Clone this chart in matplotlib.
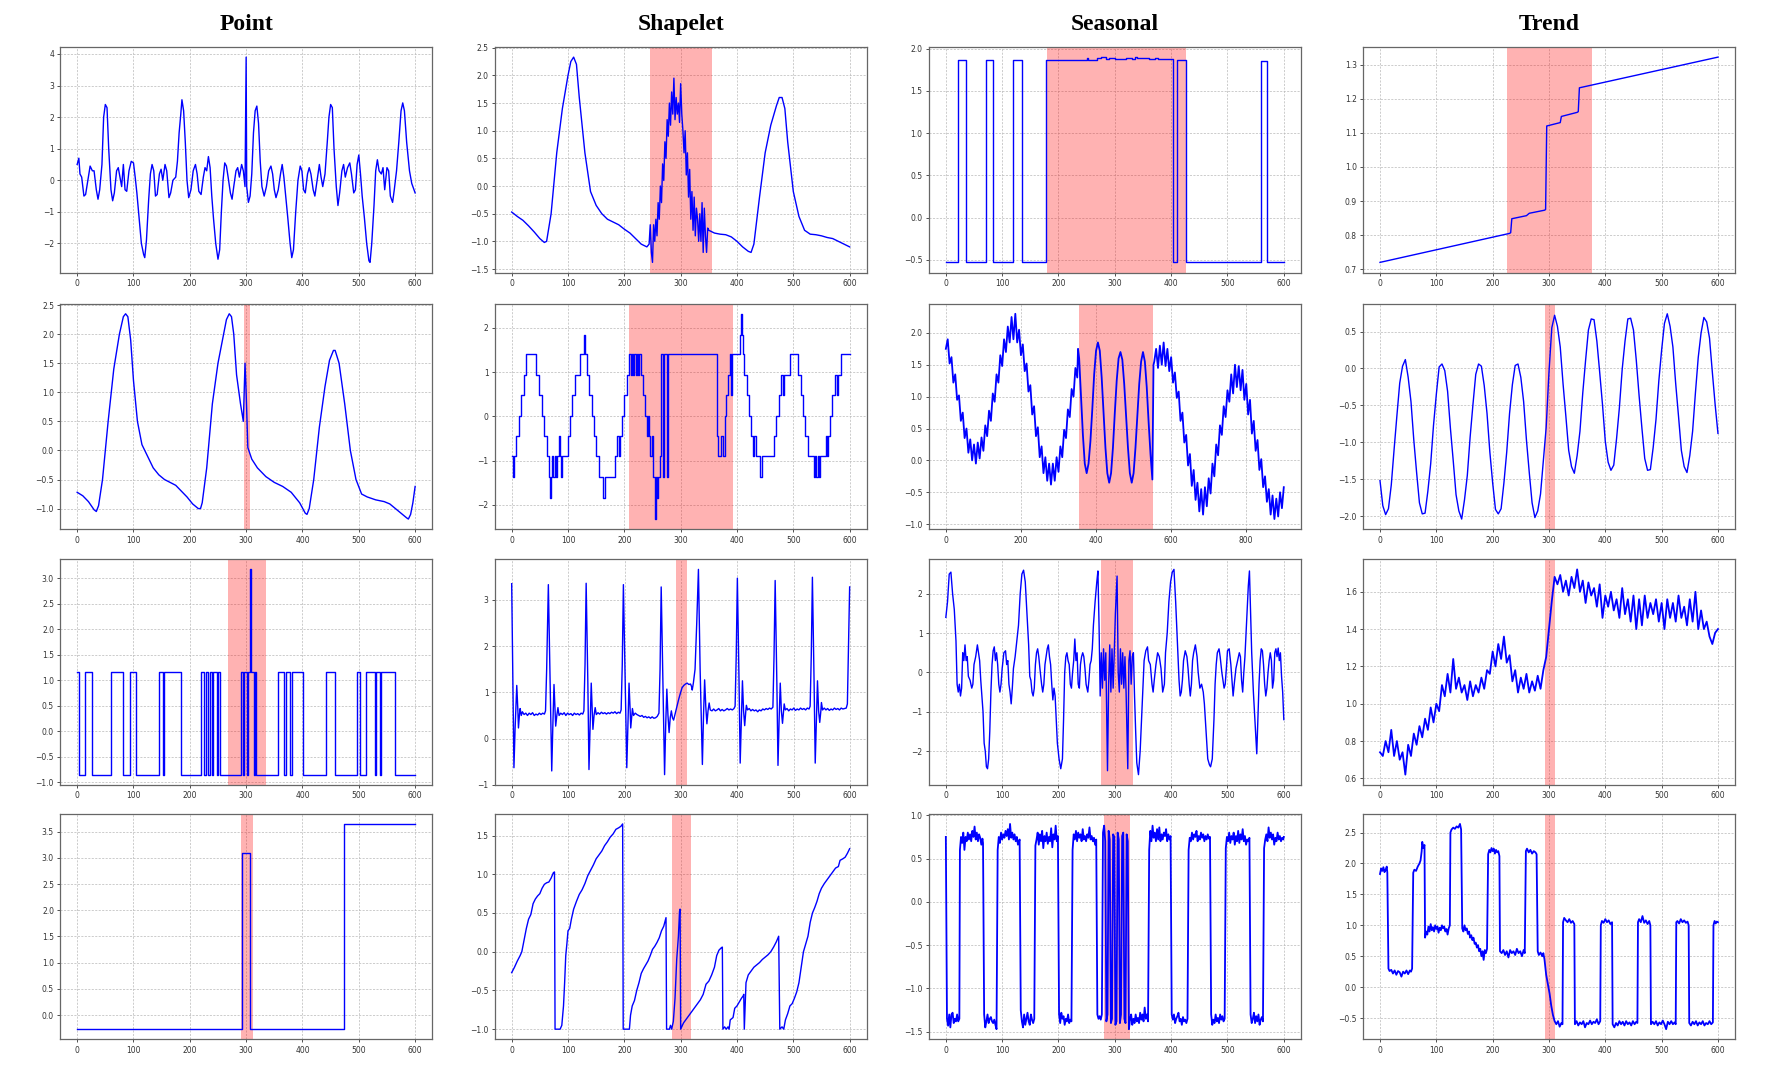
import numpy as np
import matplotlib
matplotlib.use("Agg")
import matplotlib.pyplot as plt
from matplotlib.ticker import MaxNLocator

col_titles = ["Point", "Shapelet", "Seasonal", "Trend"]

# ---------------- row 1 ----------------
point_r1 = [(0, 0.5), (3, 0.7), (5, 0.2), (8, 0.1), (12, -0.5), (15, -0.45), (20, 0.1), (23, 0.45), (27, 0.3),
            (30, 0.3), (34, -0.3), (37, -0.6), (40, -0.3), (44, 0.5), (47, 2.0), (50, 2.4), (53, 2.3), (56, 1.0),
            (60, -0.3), (63, -0.65), (66, -0.4), (70, 0.3), (73, 0.4), (76, 0.1), (79, -0.2), (82, 0.5), (85, -0.3),
            (88, -0.35), (92, 0.3), (96, 0.6), (100, 0.55), (103, 0.1), (106, -0.4), (110, -1.2), (114, -2.0),
            (118, -2.35), (120, -2.45), (123, -1.9), (127, -0.6), (130, 0.2), (133, 0.5), (136, 0.3), (139, -0.5),
            (142, -0.45), (146, 0.2), (149, 0.35), (152, 0.0), (156, 0.5), (159, 0.3), (163, -0.55), (166, -0.4),
            (170, 0.0), (175, 0.1), (178, 0.6), (181, 1.5), (184, 2.1), (186, 2.55), (189, 2.2), (192, 1.2),
            (195, 0.0), (198, -0.55), (202, -0.3), (206, 0.3), (210, 0.5), (213, 0.2), (216, -0.35), (220, -0.45),
            (224, 0.1), (227, 0.4), (230, 0.3), (233, 0.75), (236, 0.4), (239, -0.5), (242, -1.2), (246, -2.0),
            (250, -2.5), (253, -2.2), (256, -1.0), (259, 0.0), (262, 0.55), (265, 0.45), (268, 0.1), (272, -0.4),
            (275, -0.6), (278, -0.2), (282, 0.3), (285, 0.4), (288, 0.1), (292, 0.5), (295, 0.3), (298, -0.2),
            (300, 3.9), (301, -0.2), (304, -0.7), (307, -0.5), (310, 0.2), (313, 1.5), (316, 2.2), (319, 2.35),
            (322, 1.8), (325, 0.6), (328, -0.2), (332, -0.5), (336, -0.2), (340, 0.3), (344, 0.45), (347, 0.2),
            (350, -0.3), (353, -0.55), (357, -0.3), (361, 0.2), (364, 0.5), (367, 0.1), (370, -0.45), (374, -1.2),
            (378, -2.0), (381, -2.45), (384, -2.2), (388, -1.0), (392, 0.0), (396, 0.45), (399, 0.3), (402, -0.3),
            (405, -0.4), (409, 0.2), (412, 0.4), (415, 0.2), (419, -0.3), (422, -0.5), (426, 0.0), (430, 0.5),
            (433, 0.1), (436, -0.2), (440, 0.2), (444, 1.2), (447, 2.0), (450, 2.4), (453, 2.3), (456, 1.0),
            (460, -0.2), (463, -0.8), (466, -0.4), (470, 0.3), (473, 0.5), (476, 0.1), (480, 0.4), (484, 0.55),
            (487, 0.2), (491, -0.4), (494, -0.3), (497, 0.5), (500, 0.8), (503, 0.2), (506, -0.5), (510, -1.2),
            (514, -2.0), (518, -2.55), (520, -2.6), (523, -2.0), (527, -0.8), (530, 0.3), (533, 0.65), (536, 0.3),
            (540, 0.2), (543, 0.4), (546, -0.3), (550, 0.4), (553, 0.3), (556, -0.5), (560, -0.7), (563, -0.3),
            (567, 0.3), (571, 1.2), (575, 2.2), (578, 2.45), (581, 2.2), (585, 1.2), (590, 0.3), (594, -0.1),
            (600, -0.4)]

shapelet_r1 = [(0, -0.47), (10, -0.55), (20, -0.62), (30, -0.72), (40, -0.83), (50, -0.95), (58, -1.02), (62, -1.0),
               (70, -0.5), (80, 0.6), (90, 1.4), (100, 2.0), (105, 2.25), (110, 2.33), (115, 2.2), (120, 1.6),
               (130, 0.6), (140, -0.1), (150, -0.35), (160, -0.5), (170, -0.6), (180, -0.65), (190, -0.7),
               (200, -0.78), (210, -0.85), (220, -0.95), (230, -1.05), (240, -1.1), (244, -1.05), (246, -0.7),
               (248, -1.2), (250, -1.38), (252, -0.7), (254, -1.0), (256, -0.6), (258, -0.9), (260, -0.3),
               (262, -0.6), (264, 0.0), (266, -0.3), (268, 0.4), (270, 0.1), (272, 0.8), (274, 0.5), (276, 1.2),
               (278, 0.9), (280, 1.5), (282, 1.1), (284, 1.7), (286, 1.3), (288, 1.95), (290, 1.2), (292, 1.6),
               (294, 1.3), (296, 1.5), (298, 1.15), (300, 1.85), (302, 1.3), (304, 1.0), (306, 0.6), (308, 1.0),
               (310, 0.2), (312, 0.6), (314, -0.2), (316, 0.3), (318, -0.6), (320, -0.1), (322, -0.8), (324, -0.2),
               (326, -0.9), (328, -0.4), (330, -0.6), (332, -1.0), (334, -0.5), (336, -1.0), (338, -0.3),
               (340, -1.2), (342, -0.4), (344, -0.9), (346, -1.2), (348, -0.76), (350, -0.8), (360, -0.85),
               (370, -0.87), (380, -0.88), (390, -0.92), (400, -1.0), (410, -1.1), (420, -1.18), (425, -1.2),
               (430, -1.05), (440, -0.2), (450, 0.6), (460, 1.1), (470, 1.45), (475, 1.6), (480, 1.6), (485, 1.4),
               (490, 0.8), (500, -0.1), (510, -0.55), (520, -0.8), (530, -0.87), (540, -0.88), (550, -0.9),
               (560, -0.93), (570, -0.95), (580, -1.0), (590, -1.05), (600, -1.1)]

seasonal_r1 = [(0, -0.53), (22, 1.87), (36, -0.53), (71, 1.87), (83, -0.53), (119, 1.87), (135, -0.53),
               (178, 1.87), (250, 1.89), (253, 1.87), (268, 1.89), (275, 1.9), (285, 1.88), (290, 1.895),
               (300, 1.88), (320, 1.89), (330, 1.88), (335, 1.9), (340, 1.885), (350, 1.89), (360, 1.88),
               (372, 1.89), (376, 1.875), (403, -0.53), (411, 1.87), (426, -0.53), (559, 1.86), (571, -0.53),
               (600, -0.53)]

trend_r1 = [(0, 0.72), (230, 0.805), (232, 0.807), (234, 0.848), (260, 0.857), (265, 0.864), (292, 0.873),
            (294, 0.875), (296, 1.12), (320, 1.13), (322, 1.148), (350, 1.16), (352, 1.162), (354, 1.232),
            (600, 1.322)]

# ---------------- row 2 ----------------
point_r2 = [(0, -0.72), (10, -0.78), (20, -0.88), (30, -1.02), (34, -1.05), (38, -0.95), (45, -0.5), (55, 0.5),
            (65, 1.4), (75, 2.0), (82, 2.3), (86, 2.35), (90, 2.3), (95, 1.9), (100, 1.2), (107, 0.5), (115, 0.1),
            (125, -0.1), (135, -0.3), (145, -0.42), (155, -0.5), (165, -0.55), (175, -0.6), (185, -0.7),
            (195, -0.8), (205, -0.92), (215, -1.0), (219, -1.0), (222, -0.9), (230, -0.3), (240, 0.8), (250, 1.5),
            (260, 2.0), (265, 2.25), (270, 2.35), (274, 2.3), (278, 2.0), (283, 1.3), (290, 0.8), (295, 0.5),
            (298, 1.5), (300, 1.0), (303, 0.05), (310, -0.15), (320, -0.3), (335, -0.45), (350, -0.55),
            (365, -0.62), (380, -0.72), (395, -0.9), (405, -1.08), (408, -1.1), (412, -1.0), (420, -0.5),
            (430, 0.4), (440, 1.1), (448, 1.55), (455, 1.72), (458, 1.72), (465, 1.5), (475, 0.8), (485, 0.0),
            (495, -0.5), (505, -0.75), (515, -0.8), (530, -0.85), (545, -0.88), (555, -0.92), (565, -1.0),
            (575, -1.08), (585, -1.16), (588, -1.18), (592, -1.1), (596, -0.9), (600, -0.62)]

shapelet_r2 = [(0, -0.9), (3, -1.36), (5, -0.9), (8, -0.44), (13, 0.02), (17, 0.48), (21, 0.94), (25, 1.4),
               (44, 0.94), (48, 0.48), (53, 0.02), (58, -0.44), (62, -0.9), (66, -1.36), (68, -1.84), (70, -1.36),
               (72, -0.9), (74, -1.36), (77, -0.9), (79, -1.36), (81, -0.9), (84, -0.44), (86, -0.9), (88, -1.36),
               (90, -0.9), (100, -0.44), (104, 0.02), (107, 0.48), (112, 0.94), (122, 1.4), (128, 1.84), (131, 1.4),
               (134, 0.94), (138, 0.48), (142, 0.02), (146, -0.44), (150, -0.9), (155, -1.36), (163, -1.84),
               (165, -1.36), (183, -0.9), (187, -0.44), (190, -0.9), (192, -0.44), (196, 0.02), (200, 0.48),
               (204, 0.94), (208, 1.4), (211, 0.94), (213, 1.4), (215, 0.94), (217, 1.4), (220, 0.94), (222, 1.4),
               (224, 0.94), (226, 1.4), (229, 0.94), (233, 0.48), (237, 0.02), (240, -0.44), (242, 0.02),
               (244, -0.44), (246, -0.9), (249, -0.44), (251, -1.36), (254, -2.32), (256, -1.36), (258, -1.84),
               (260, -1.36), (263, -0.9), (265, 1.4), (268, -1.36), (271, 1.4), (275, -1.36), (278, 1.4),
               (364, -0.44), (367, -0.9), (372, -0.44), (375, -0.9), (378, 0.02), (381, 0.48), (384, 0.94),
               (388, 1.4), (390, 0.48), (392, 1.4), (405, 1.84), (407, 2.32), (409, 1.84), (411, 1.4), (413, 0.94),
               (417, 0.48), (421, 0.02), (425, -0.44), (429, -0.9), (431, -0.44), (434, -0.9), (440, -1.36),
               (444, -0.9), (466, -0.44), (470, 0.02), (474, 0.48), (478, 0.94), (481, 0.48), (484, 0.94),
               (494, 1.4), (509, 0.94), (513, 0.48), (517, 0.02), (521, -0.44), (526, -0.9), (536, -1.36),
               (538, -0.9), (541, -1.36), (543, -0.9), (546, -1.36), (548, -0.9), (558, -0.44), (560, -0.9),
               (562, -0.44), (565, 0.02), (569, 0.48), (574, 0.94), (577, 0.48), (579, 0.94), (584, 1.4),
               (600, 1.4)]

seasonal_r2 = [(0, 1.75), (5, 1.90), (10, 1.52), (15, 1.62), (20, 1.22), (25, 1.35), (30, 0.95), (35, 1.02),
               (40, 0.62), (45, 0.75), (50, 0.35), (55, 0.50), (60, 0.12), (65, 0.33), (70, 0.00), (75, 0.25),
               (80, -0.05), (85, 0.28), (90, 0.03), (95, 0.36), (100, 0.15), (105, 0.55), (110, 0.38), (115, 0.78),
               (120, 0.62), (125, 1.05), (130, 0.92), (135, 1.35), (140, 1.22), (145, 1.65), (150, 1.48),
               (155, 1.90), (160, 1.70), (165, 2.10), (170, 1.85), (175, 2.25), (180, 1.90), (185, 2.30),
               (190, 1.85), (195, 2.05), (200, 1.65), (205, 1.82), (210, 1.40), (215, 1.52), (220, 1.08),
               (225, 1.18), (230, 0.72), (235, 0.85), (240, 0.38), (245, 0.52), (250, 0.05), (255, 0.22),
               (260, -0.20), (265, 0.05), (270, -0.32), (275, -0.05), (280, -0.38), (285, -0.05), (290, -0.32),
               (295, 0.05), (300, -0.18), (305, 0.22), (310, 0.05), (315, 0.48), (320, 0.35), (325, 0.80),
               (330, 0.68), (335, 1.12), (340, 1.00), (345, 1.45), (350, 1.30), (352, 1.75),
               (355, 1.6), (360, 1.0), (365, 0.4), (370, -0.05), (375, -0.2), (380, -0.05), (385, 0.3), (390, 0.8),
               (395, 1.35), (400, 1.72), (405, 1.85), (410, 1.72), (415, 1.3), (420, 0.75), (425, 0.2), (430, -0.2),
               (435, -0.35), (440, -0.2), (445, 0.2), (450, 0.75), (455, 1.25), (460, 1.6), (465, 1.7),
               (470, 1.58), (475, 1.2), (480, 0.7), (485, 0.2), (490, -0.2), (495, -0.35), (500, -0.2), (505, 0.2),
               (510, 0.7), (515, 1.2), (520, 1.55), (525, 1.7), (530, 1.55), (535, 1.15), (540, 0.6), (545, 0.1),
               (550, -0.3),
               (553, 1.5), (555, 1.55), (560, 1.75), (565, 1.45), (570, 1.80), (575, 1.50), (580, 1.85),
               (585, 1.48), (590, 1.75), (595, 1.40), (600, 1.62), (605, 1.22), (610, 1.38), (615, 0.98),
               (620, 1.08), (625, 0.62), (630, 0.75), (635, 0.28), (640, 0.40), (645, -0.08), (650, 0.10),
               (655, -0.40), (660, -0.15), (665, -0.62), (670, -0.35), (675, -0.80), (680, -0.45), (685, -0.85),
               (690, -0.42), (695, -0.72), (700, -0.28), (705, -0.52), (710, -0.05), (715, -0.25), (720, 0.25),
               (725, 0.08), (730, 0.55), (735, 0.40), (740, 0.85), (745, 0.68), (750, 1.10), (755, 0.92),
               (760, 1.35), (765, 1.05), (770, 1.50), (775, 1.15), (780, 1.48), (785, 1.10), (790, 1.42),
               (795, 0.95), (800, 1.20), (805, 0.72), (810, 0.95), (815, 0.42), (820, 0.62), (825, 0.15),
               (830, 0.32), (835, -0.15), (840, 0.02), (845, -0.42), (850, -0.25), (855, -0.65), (860, -0.45),
               (865, -0.85), (870, -0.55), (875, -0.92), (880, -0.60), (885, -0.88), (890, -0.50), (895, -0.75),
               (900, -0.42)]

trend_r2_x = np.arange(0, 601, 5)
trend_r2_y = [-1.52, -1.86, -1.98, -1.90, -1.58, -1.10, -0.64, -0.20, 0.03, 0.12, -0.12, -0.45, -0.97, -1.41,
              -1.82, -1.97, -1.96, -1.66, -1.29, -0.77, -0.35, 0.02, 0.06, -0.03, -0.31, -0.81, -1.25, -1.71,
              -1.93, -2.04, -1.78, -1.45, -0.93, -0.49, -0.08, 0.06, 0.03, -0.23, -0.61, -1.13, -1.55, -1.91,
              -1.97, -1.90, -1.55, -1.13, -0.61, -0.22, 0.04, 0.06, -0.12, -0.45, -0.97, -1.41, -1.82, -2.02,
              -1.93, -1.70, -1.25, -0.80, -0.05, 0.55, 0.72, 0.57, 0.29, -0.21, -0.65, -1.11, -1.33, -1.42,
              -1.18, -0.85, -0.33, 0.11, 0.52, 0.67, 0.66, 0.37, -0.05, -0.49, -0.99, -1.27, -1.38, -1.31,
              -0.95, -0.53, -0.01, 0.37, 0.67, 0.68, 0.52, 0.11, -0.37, -0.81, -1.22, -1.38, -1.37, -1.07,
              -0.69, -0.17, 0.25, 0.61, 0.74, 0.57, 0.29, -0.21, -0.65, -1.11, -1.33, -1.41, -1.18, -0.85,
              -0.33, 0.15, 0.48, 0.69, 0.63, 0.41, -0.05, -0.49, -0.88]

# ---------------- row 3 ----------------
point_r3 = [(0, 1.16), (3, -0.85), (14, 1.16), (27, -0.85), (60, 1.16), (81, -0.85), (94, 1.16), (105, -0.85),
            (145, 1.16), (152, -0.85), (155, 1.16), (185, -0.85), (220, 1.16), (226, -0.85), (228, 1.16),
            (233, -0.85), (235, 1.16), (240, -0.85), (242, 1.16), (248, -0.85), (250, 1.16), (254, -0.85),
            (290, 1.16), (295, -0.85), (297, 1.16), (302, -0.85), (304, 1.16), (306, 3.17), (308, 1.16),
            (314, -0.85), (316, 1.16), (318, -0.85), (357, 1.16), (367, -0.85), (370, 1.16), (378, -0.85),
            (381, 1.16), (401, -0.85), (442, 1.16), (457, -0.85), (496, 1.16), (503, -0.85), (513, 1.16),
            (528, -0.85), (531, 1.16), (537, -0.85), (539, 1.16), (564, -0.85), (600, -0.85)]

shapelet_r3 = [(0, 3.35), (2, 1.4), (4, -0.63), (6, 0.2), (9, 1.15), (11, 0.6), (12, 0.23), (14, 0.55), (15, 0.65),
               (17, 0.5), (19, 0.58), (22, 0.52), (25, 0.55), (28, 0.5), (31, 0.55), (34, 0.52), (37, 0.56),
               (40, 0.5), (43, 0.53), (46, 0.51), (49, 0.55), (52, 0.52), (55, 0.55), (58, 0.53), (60, 0.6),
               (62, 1.5), (65, 3.33), (68, 1.3), (71, -0.7), (73, 0.3), (75, 1.17), (77, 0.6), (78, 0.27),
               (80, 0.5), (82, 0.67), (84, 0.5), (87, 0.55), (90, 0.52), (93, 0.56), (96, 0.5), (99, 0.55),
               (102, 0.52), (105, 0.54), (108, 0.5), (111, 0.55), (114, 0.52), (117, 0.54), (120, 0.51),
               (123, 0.55), (126, 0.53), (128, 0.6), (130, 1.6), (132, 3.36), (135, 1.2), (137, -0.67), (139, 0.3),
               (141, 1.2), (143, 0.55), (144, 0.2), (146, 0.5), (148, 0.67), (150, 0.52), (153, 0.56), (156, 0.53),
               (159, 0.57), (162, 0.54), (165, 0.56), (168, 0.53), (171, 0.56), (174, 0.54), (177, 0.57),
               (180, 0.55), (183, 0.58), (186, 0.54), (189, 0.57), (192, 0.55), (194, 0.62), (196, 1.6),
               (198, 3.33), (201, 1.3), (204, -0.63), (206, 0.3), (208, 1.2), (210, 0.6), (211, 0.23), (213, 0.5),
               (214, 0.65), (216, 0.5), (219, 0.55), (222, 0.52), (225, 0.5), (228, 0.48), (231, 0.5), (234, 0.46),
               (237, 0.48), (240, 0.45), (243, 0.47), (246, 0.44), (249, 0.47), (252, 0.44), (255, 0.45),
               (258, 0.48), (261, 0.55), (263, 1.5), (265, 3.28), (268, 1.2), (271, -0.78), (273, 0.3),
               (275, 1.07), (277, 0.5), (279, 0.13), (281, 0.45), (283, 0.6), (285, 0.45), (287, 0.4), (290, 0.55),
               (293, 0.7), (296, 0.85), (299, 0.98), (302, 1.1), (305, 1.15), (308, 1.18), (311, 1.2), (314, 1.17),
               (317, 1.18), (319, 1.12), (320, 1.05), (322, 1.2), (325, 1.5), (328, 2.5), (331, 3.66), (334, 1.5),
               (338, -0.56), (340, 0.5), (342, 1.27), (344, 0.7), (346, 0.32), (348, 0.6), (350, 0.77),
               (352, 0.62), (355, 0.6), (358, 0.64), (361, 0.6), (364, 0.62), (367, 0.65), (370, 0.6), (373, 0.63),
               (376, 0.6), (379, 0.62), (382, 0.65), (385, 0.62), (388, 0.64), (391, 0.62), (394, 0.65),
               (396, 0.7), (398, 1.8), (400, 3.47), (403, 1.2), (405, -0.53), (407, 0.4), (409, 1.25), (411, 0.6),
               (413, 0.28), (415, 0.6), (416, 0.72), (418, 0.62), (421, 0.65), (424, 0.6), (427, 0.63), (430, 0.6),
               (433, 0.62), (436, 0.58), (439, 0.62), (442, 0.6), (445, 0.64), (448, 0.62), (451, 0.65),
               (454, 0.63), (457, 0.66), (460, 0.64), (463, 0.68), (465, 1.8), (467, 3.42), (470, 1.2),
               (472, -0.58), (474, 0.4), (476, 1.2), (478, 0.6), (480, 0.33), (482, 0.6), (483, 0.75), (485, 0.62),
               (488, 0.65), (491, 0.6), (494, 0.64), (497, 0.62), (500, 0.66), (503, 0.61), (506, 0.64),
               (509, 0.62), (512, 0.66), (515, 0.63), (518, 0.65), (521, 0.62), (524, 0.66), (527, 0.64),
               (529, 0.7), (531, 1.8), (533, 3.49), (536, 1.2), (538, -0.53), (540, 0.4), (542, 1.25), (544, 0.6),
               (546, 0.35), (548, 0.6), (549, 0.78), (551, 0.62), (554, 0.66), (557, 0.62), (560, 0.65),
               (563, 0.61), (566, 0.64), (569, 0.62), (572, 0.66), (575, 0.63), (578, 0.65), (581, 0.62),
               (584, 0.66), (587, 0.64), (590, 0.65), (593, 0.66), (595, 0.75), (597, 2.0), (599, 3.28)]

seasonal_r3 = [(0, 1.4), (3, 1.8), (6, 2.5), (9, 2.55), (12, 2.0), (15, 1.6), (18, 0.8), (20, -0.3), (22, -0.5),
               (24, -0.3), (26, -0.6), (28, -0.4), (30, 0.5), (32, 0.3), (34, 0.7), (36, 0.3), (38, 0.4), (40, -0.1),
               (43, -0.2), (46, -0.4), (48, -0.3), (50, 0.2), (53, 0.4), (56, 0.7), (58, 0.5), (60, 0.3),
               (62, -0.2), (64, -0.6), (66, -1.0), (68, -1.8), (70, -2.0), (72, -2.4), (74, -2.45), (76, -2.2),
               (78, -1.5), (80, -0.5), (82, 0.2), (84, 0.55), (86, 0.65), (88, 0.3), (90, 0.5), (92, 0.2),
               (94, -0.3), (96, -0.5), (98, -0.3), (100, 0.1), (103, 0.5), (106, 0.55), (108, 0.2), (110, 0.3),
               (112, -0.3), (114, -0.5), (116, -0.8), (118, -0.4), (120, 0.1), (123, 0.4), (126, 0.8), (129, 1.2),
               (132, 2.0), (135, 2.5), (138, 2.6), (141, 2.3), (144, 1.5), (147, 0.7), (149, -0.1), (151, -0.2),
               (153, -0.5), (155, -0.6), (157, -0.4), (159, 0.2), (161, 0.5), (163, 0.6), (165, 0.4), (167, 0.1),
               (170, -0.3), (172, -0.5), (174, -0.3), (176, 0.2), (178, 0.4), (180, 0.6), (182, 0.7), (184, 0.4),
               (186, 0.2), (188, -0.3), (190, -0.7), (192, -0.4), (194, -0.6), (196, -1.2), (198, -1.8),
               (201, -2.2), (204, -2.45), (207, -2.2), (209, -1.2), (211, 0.0), (213, 0.4), (215, 0.5), (217, 0.3),
               (219, 0.2), (221, -0.3), (223, -0.4), (225, 0.0), (227, 0.3), (229, 0.85), (231, 0.3), (233, 0.5),
               (235, -0.3), (237, -0.4), (239, 0.2), (241, 0.4), (243, 0.5), (245, 0.4), (247, 0.1), (249, -0.3),
               (252, -0.5), (254, -0.2), (256, 0.2), (258, 0.3), (260, 0.6), (262, 1.2), (265, 1.8), (268, 2.3),
               (270, 2.58), (272, 1.2), (274, -0.6), (276, 0.5), (278, -0.4), (280, 0.6), (282, -0.2), (284, 0.5),
               (287, -2.5), (289, -0.3), (291, 0.7), (293, -0.5), (295, 0.6), (297, -0.4), (299, 0.5), (301, 1.5),
               (304, 2.45), (306, 0.0), (308, -0.5), (310, 0.6), (312, -0.3), (314, 0.5), (316, -0.4), (318, 0.4),
               (320, -0.5), (323, -2.45), (325, 0.3), (327, 0.55), (329, -0.3), (331, 0.4), (333, 0.5), (335, -0.6),
               (337, -1.5), (339, -2.3), (342, -2.6), (345, -2.0), (348, -1.0), (350, -0.3), (352, 0.3),
               (355, 0.55), (358, 0.65), (360, 0.3), (363, 0.2), (366, -0.3), (368, -0.5), (370, -0.2), (373, 0.2),
               (376, 0.5), (379, 0.4), (382, 0.1), (385, -0.5), (388, -0.3), (390, 0.5), (393, 1.0), (396, 1.8),
               (399, 2.3), (402, 2.55), (405, 2.62), (408, 1.8), (411, 0.8), (414, -0.2), (416, -0.6),
               (418, -0.5), (420, -0.2), (422, 0.3), (425, 0.55), (428, 0.4), (430, 0.1), (432, -0.3), (434, -0.6),
               (436, -0.3), (438, 0.3), (440, 0.5), (443, 0.7), (446, 0.4), (448, 0.0), (451, -0.4), (454, -0.3),
               (457, -0.5), (459, -0.8), (462, -1.5), (465, -2.2), (468, -2.35), (470, -2.4), (473, -2.2),
               (476, -1.2), (478, -0.3), (480, 0.2), (482, 0.5), (485, 0.6), (487, 0.4), (490, 0.0), (492, -0.2),
               (494, -0.4), (496, -0.3), (498, 0.1), (500, 0.55), (503, 0.6), (506, 0.2), (508, -0.2), (510, -0.6),
               (512, -0.3), (515, 0.1), (518, 0.3), (521, 0.5), (523, 0.4), (525, -0.2), (527, -0.5), (529, 0.0),
               (531, 0.4), (533, 1.0), (535, 1.6), (537, 2.2), (539, 2.58), (541, 1.5), (543, 0.5), (546, -0.5),
               (549, -1.3), (552, -2.07), (554, -1.2), (556, -0.3), (558, 0.3), (560, 0.6), (562, 0.55),
               (564, 0.2), (566, -0.3), (568, -0.6), (570, -0.4), (572, 0.0), (574, 0.3), (576, 0.5), (578, 0.3),
               (580, -0.4), (582, -0.2), (584, 0.5), (586, 0.6), (588, 0.4), (590, 0.62), (592, 0.3), (594, 0.5),
               (596, -0.1), (598, -0.5), (600, -1.2)]

trend_r3_x = np.arange(0, 601, 5)
trend_r3_y = [0.74, 0.72, 0.80, 0.74, 0.86, 0.72, 0.80, 0.70, 0.74, 0.62, 0.78, 0.72, 0.84, 0.78, 0.88, 0.82,
              0.92, 0.86, 0.98, 0.90, 1.00, 0.96, 1.10, 1.04, 1.16, 1.06, 1.24, 1.08, 1.14, 1.06, 1.10, 1.02,
              1.12, 1.04, 1.10, 1.06, 1.14, 1.08, 1.18, 1.16, 1.28, 1.20, 1.32, 1.24, 1.36, 1.22, 1.26, 1.12,
              1.18, 1.06, 1.14, 1.08, 1.16, 1.06, 1.12, 1.07, 1.15, 1.08, 1.18, 1.25, 1.40, 1.55, 1.68, 1.64,
              1.69, 1.60, 1.66, 1.58, 1.68, 1.62, 1.72, 1.60, 1.66, 1.54, 1.65, 1.58, 1.62, 1.52, 1.64, 1.46,
              1.58, 1.52, 1.60, 1.50, 1.56, 1.46, 1.62, 1.48, 1.56, 1.44, 1.58, 1.40, 1.56, 1.42, 1.58, 1.46,
              1.54, 1.48, 1.56, 1.44, 1.54, 1.40, 1.56, 1.46, 1.54, 1.44, 1.58, 1.46, 1.52, 1.42, 1.56, 1.44,
              1.60, 1.40, 1.50, 1.40, 1.44, 1.36, 1.32, 1.38, 1.40]

# ---------------- row 4 ----------------
point_r4 = [(0, -0.27), (292, 3.1), (306, -0.27), (474, 3.65), (600, 3.65)]

shapelet_r4 = [(0, -0.27), (5, -0.2), (10, -0.12), (15, -0.05), (18, 0.0), (22, 0.15), (26, 0.3), (30, 0.42),
               (34, 0.48), (38, 0.62), (42, 0.68), (46, 0.72), (50, 0.75), (54, 0.82), (58, 0.87), (62, 0.89),
               (66, 0.9), (70, 0.95), (74, 1.02), (76, 1.03), (77, -1.0), (86, -1.0), (89, -0.95), (92, -0.7),
               (94, -0.4), (96, -0.05), (98, 0.1), (100, 0.27), (103, 0.3), (106, 0.42), (110, 0.55), (115, 0.65),
               (120, 0.74), (125, 0.8), (130, 0.88), (135, 0.98), (140, 1.05), (145, 1.12), (150, 1.2),
               (155, 1.25), (160, 1.3), (165, 1.37), (170, 1.42), (175, 1.48), (180, 1.52), (185, 1.58),
               (190, 1.6), (194, 1.62), (197, 1.65), (198, -1.0), (209, -1.0), (211, -0.82), (214, -0.7),
               (218, -0.63), (222, -0.5), (226, -0.4), (230, -0.28), (234, -0.22), (238, -0.17), (242, -0.12),
               (246, -0.05), (250, 0.03), (254, 0.07), (258, 0.12), (262, 0.18), (266, 0.27), (270, 0.33),
               (274, 0.44), (275, -1.0), (280, -1.0), (282, -0.95), (284, -1.0), (287, -0.9), (290, -0.6),
               (293, -0.1), (296, 0.2), (298, 0.52), (299, 0.55), (300, -1.0), (305, -0.92), (315, -0.82),
               (325, -0.72), (335, -0.62), (340, -0.55), (345, -0.42), (350, -0.38), (355, -0.3), (360, -0.2),
               (364, -0.05), (368, 0.02), (372, 0.05), (374, 0.06), (375, -1.0), (378, -0.97), (381, -1.0),
               (384, -0.97), (386, -1.0), (388, -0.88), (393, -0.85), (396, -0.73), (400, -0.7), (404, -0.65),
               (408, -0.6), (411, -0.57), (412, -0.55), (413, -1.0), (416, -0.4), (420, -0.3), (425, -0.25),
               (430, -0.2), (435, -0.17), (440, -0.14), (445, -0.1), (450, -0.07), (455, -0.04), (460, 0.0),
               (465, 0.06), (470, 0.13), (474, 0.2), (476, -1.0), (480, -0.97), (483, -1.0), (486, -0.88),
               (490, -0.8), (494, -0.7), (498, -0.67), (502, -0.6), (506, -0.52), (510, -0.4), (514, -0.2),
               (518, 0.0), (522, 0.1), (526, 0.2), (530, 0.38), (534, 0.5), (538, 0.57), (542, 0.65), (546, 0.75),
               (550, 0.82), (555, 0.88), (560, 0.93), (565, 0.98), (570, 1.03), (575, 1.08), (580, 1.1),
               (583, 1.18), (588, 1.2), (592, 1.22), (596, 1.27), (600, 1.33)]

seasonal_r4 = [(0, 0.75), (2, -1.35), (4, -1.43), (6, -1.3), (8, -1.45), (10, -1.3), (12, -1.28), (14, -1.4),
               (16, -1.35), (18, -1.38), (20, -1.3), (22, -1.38), (24, -1.35), (25, 0.6), (27, 0.75), (29, 0.68),
               (31, 0.8), (33, 0.6), (35, 0.75), (37, 0.7), (39, 0.8), (41, 0.72), (43, 0.78), (45, 0.7),
               (47, 0.82), (49, 0.75), (51, 0.87), (53, 0.72), (55, 0.8), (57, 0.7), (59, 0.78), (61, 0.74),
               (63, 0.66), (65, 0.73), (66, 0.68), (68, -1.3), (70, -1.45), (72, -1.38), (74, -1.3), (76, -1.4),
               (78, -1.35), (80, -1.33), (82, -1.38), (84, -1.4), (86, -1.36), (88, -1.42), (90, -1.47),
               (92, 0.6), (94, 0.75), (96, 0.68), (98, 0.8), (100, 0.72), (102, 0.78), (104, 0.74), (106, 0.82),
               (108, 0.76), (110, 0.84), (112, 0.72), (114, 0.9), (116, 0.74), (118, 0.8), (120, 0.72),
               (122, 0.78), (124, 0.7), (126, 0.75), (128, 0.66), (131, 0.72), (133, -1.25), (135, -1.38),
               (137, -1.45), (139, -1.3), (141, -1.42), (143, -1.35), (145, -1.28), (147, -1.38), (149, -1.42),
               (151, -1.3), (153, -1.36), (155, -1.4), (157, -1.35), (159, 0.65), (161, 0.72), (163, 0.8),
               (165, 0.66), (167, 0.78), (169, 0.7), (171, 0.82), (173, 0.62), (175, 0.76), (177, 0.7), (179, 0.8),
               (181, 0.67), (183, 0.75), (185, 0.7), (187, 0.85), (189, 0.63), (191, 0.78), (193, 0.72),
               (195, 0.88), (197, 0.7), (199, 0.76), (201, -1.3), (203, -1.4), (205, -1.28), (207, -1.35),
               (209, -1.32), (211, -1.42), (213, -1.35), (215, -1.38), (217, -1.3), (219, -1.4), (221, -1.36),
               (223, -1.38), (225, 0.6), (227, 0.78), (229, 0.72), (231, 0.82), (233, 0.7), (235, 0.8),
               (237, 0.74), (239, 0.78), (241, 0.7), (243, 0.84), (245, 0.72), (247, 0.76), (249, 0.7),
               (251, 0.78), (253, 0.74), (255, 0.86), (257, 0.72), (259, 0.76), (261, 0.7), (263, 0.74),
               (265, 0.66), (267, 0.72), (269, -1.3), (271, -1.35), (273, -1.32), (275, -1.36), (277, -1.3),
               (279, 0.8), (281, 0.88), (283, 0.7), (285, -1.38), (287, -1.3), (289, 0.82), (291, 0.72),
               (293, -1.4), (295, -1.35), (297, 0.78), (299, 0.75), (301, -1.42), (303, -1.38), (305, 0.8),
               (307, 0.72), (309, -1.4), (311, -1.3), (313, 0.76), (315, 0.8), (317, -1.35), (319, -1.4),
               (321, 0.78), (323, 0.7), (325, -1.47), (327, -1.36), (329, -1.3), (331, -1.42), (333, -1.35),
               (335, -1.4), (337, -1.3), (339, -1.38), (341, -1.34), (343, -1.4), (345, -1.28), (347, -1.36),
               (349, -1.3), (351, -1.38), (353, -1.22), (355, -1.35), (357, -1.3), (359, -1.38), (361, 0.6),
               (363, 0.82), (365, 0.7), (367, 0.88), (369, 0.74), (371, 0.8), (373, 0.7), (375, 0.84), (377, 0.72),
               (379, 0.86), (381, 0.7), (383, 0.78), (385, 0.72), (387, 0.8), (389, 0.76), (391, 0.84), (393, 0.7),
               (395, 0.78), (397, 0.72), (399, 0.76), (401, -1.3), (403, -1.36), (405, -1.3), (407, -1.4),
               (409, -1.35), (411, -1.32), (413, -1.28), (415, -1.38), (417, -1.35), (419, -1.42), (421, -1.33),
               (423, -1.38), (425, -1.36), (427, -1.4), (429, -1.35), (431, 0.6), (433, 0.74), (435, 0.7),
               (437, 0.8), (439, 0.72), (441, 0.78), (443, 0.75), (445, 0.82), (447, 0.7), (449, 0.76),
               (451, 0.72), (453, 0.8), (455, 0.74), (457, 0.78), (459, 0.7), (461, 0.76), (463, 0.72),
               (465, 0.78), (467, 0.73), (469, 0.75), (471, -1.3), (473, -1.42), (475, -1.36), (477, -1.4),
               (479, -1.3), (481, -1.38), (483, -1.34), (485, -1.4), (487, -1.3), (489, -1.36), (491, -1.32),
               (493, -1.38), (495, -1.35), (497, 0.62), (499, 0.75), (501, 0.7), (503, 0.8), (505, 0.68),
               (507, 0.76), (509, 0.72), (511, 0.8), (513, 0.66), (515, 0.76), (517, 0.7), (519, 0.82),
               (521, 0.68), (523, 0.78), (525, 0.72), (527, 0.84), (529, 0.7), (531, 0.76), (533, 0.66),
               (535, 0.72), (537, 0.7), (539, 0.74), (541, -1.3), (543, -1.4), (545, -1.35), (547, -1.28),
               (549, -1.4), (551, -1.32), (553, -1.38), (555, -1.3), (557, -1.42), (559, -1.36), (561, -1.33),
               (563, -1.38), (565, 0.62), (567, 0.72), (569, 0.78), (571, 0.7), (573, 0.86), (575, 0.74),
               (577, 0.8), (579, 0.72), (581, 0.78), (583, 0.66), (585, 0.74), (587, 0.7), (589, 0.8),
               (591, 0.72), (593, 0.76), (595, 0.7), (597, 0.74), (599, 0.72), (600, 0.75)]

trend_r4 = [(0, 1.83), (2, 1.92), (4, 1.88), (6, 1.94), (8, 1.86), (10, 1.9), (12, 1.95), (13, 1.85), (15, 0.3),
            (17, 0.26), (20, 0.28), (23, 0.22), (26, 0.27), (29, 0.2), (32, 0.26), (35, 0.24), (38, 0.17),
            (41, 0.25), (44, 0.22), (47, 0.27), (50, 0.21), (53, 0.27), (55, 0.25), (57, 0.3), (59, 1.85),
            (61, 1.9), (64, 1.88), (67, 1.95), (70, 2.0), (72, 2.05), (74, 2.2), (75, 2.35), (77, 2.25), (79, 2.3),
            (80, 0.8), (82, 0.9), (84, 0.85), (86, 0.98), (88, 0.9), (90, 1.02), (92, 0.92), (94, 0.97), (96, 0.9),
            (98, 1.0), (100, 0.94), (102, 0.98), (104, 0.88), (106, 0.96), (108, 0.92), (110, 1.0), (112, 0.95),
            (114, 0.98), (116, 0.9), (118, 0.94), (120, 0.85), (122, 0.95), (124, 1.0), (125, 2.5), (127, 2.55),
            (130, 2.58), (133, 2.56), (136, 2.6), (139, 2.58), (142, 2.64), (144, 2.55), (146, 0.95), (148, 0.9),
            (150, 1.0), (152, 0.92), (154, 0.95), (156, 0.86), (158, 0.9), (160, 0.8), (162, 0.84), (164, 0.76),
            (166, 0.8), (168, 0.7), (170, 0.72), (172, 0.64), (174, 0.68), (176, 0.58), (178, 0.62), (180, 0.5),
            (182, 0.58), (184, 0.44), (186, 0.6), (188, 0.55), (190, 0.62), (192, 2.15), (194, 2.22),
            (196, 2.18), (198, 2.25), (200, 2.2), (202, 2.24), (204, 2.16), (206, 2.22), (208, 2.18), (210, 2.2),
            (212, 2.12), (213, 0.58), (216, 0.55), (219, 0.6), (222, 0.52), (225, 0.58), (228, 0.48), (231, 0.6),
            (234, 0.55), (237, 0.58), (240, 0.52), (243, 0.62), (246, 0.55), (249, 0.58), (252, 0.5), (255, 0.6),
            (257, 0.55), (259, 2.2), (261, 2.24), (264, 2.18), (267, 2.22), (270, 2.16), (273, 2.2), (276, 2.18),
            (278, 2.15), (280, 0.58), (282, 0.52), (285, 0.56), (288, 0.5), (290, 0.55), (292, 0.45), (295, 0.2),
            (298, 0.05), (301, -0.1), (304, -0.3), (307, -0.45), (310, -0.55), (313, -0.6), (316, -0.55),
            (319, -0.64), (322, -0.58), (324, -0.6), (325, 1.05), (327, 1.12), (330, 1.08), (333, 1.05),
            (336, 1.1), (339, 1.04), (342, 1.07), (345, 1.02), (346, -0.6), (349, -0.55), (352, -0.62),
            (355, -0.57), (358, -0.6), (361, -0.55), (364, -0.65), (367, -0.58), (370, -0.6), (373, -0.54),
            (376, -0.6), (379, -0.56), (382, -0.58), (385, -0.52), (388, -0.6), (391, -0.55), (392, 1.0),
            (394, 1.07), (397, 1.04), (400, 1.1), (403, 1.05), (406, 1.08), (409, 1.02), (412, 1.05), (413, -0.6),
            (416, -0.65), (419, -0.58), (422, -0.62), (425, -0.55), (428, -0.6), (431, -0.56), (434, -0.62),
            (437, -0.55), (440, -0.6), (443, -0.57), (446, -0.62), (449, -0.55), (452, -0.6), (455, -0.56),
            (457, -0.58), (458, 1.05), (460, 1.1), (463, 1.05), (466, 1.15), (469, 1.04), (472, 1.08),
            (475, 1.02), (478, 1.07), (480, 1.0), (481, -0.6), (484, -0.56), (487, -0.6), (490, -0.55),
            (493, -0.62), (496, -0.57), (499, -0.6), (502, -0.54), (505, -0.6), (508, -0.68), (511, -0.56),
            (514, -0.6), (517, -0.55), (520, -0.6), (523, -0.57), (525, -0.6), (526, 1.05), (528, 1.07),
            (531, 1.03), (534, 1.1), (537, 1.05), (540, 1.08), (543, 1.04), (546, 1.06), (548, 1.0), (549, -0.58),
            (552, -0.62), (555, -0.56), (558, -0.6), (561, -0.55), (564, -0.62), (567, -0.57), (570, -0.6),
            (573, -0.55), (576, -0.62), (579, -0.58), (582, -0.6), (585, -0.55), (588, -0.6), (591, -0.57),
            (592, 1.0), (594, 1.07), (596, 1.03), (598, 1.06), (600, 1.05)]

# anomaly windows (start, end) per panel, row by row
spans = [[(299.4, 300.6), (245, 355), (180, 427), (226, 376)],
         [(296, 307), (208, 393), (354, 552), (293, 310)],
         [(267, 336), (291, 310), (275, 333), (293, 310)],
         [(290, 312), (284, 318), (280, 327), (293, 310)]]


def split(pts):
    return [p[0] for p in pts], [p[1] for p in pts]


series = [
    [split(point_r1), split(shapelet_r1), split(seasonal_r1), split(trend_r1)],
    [split(point_r2), split(shapelet_r2), split(seasonal_r2), (trend_r2_x, trend_r2_y)],
    [split(point_r3), split(shapelet_r3), split(seasonal_r3), (trend_r3_x, trend_r3_y)],
    [split(point_r4), split(shapelet_r4), split(seasonal_r4), split(trend_r4)],
]
stepped = {(0, 2), (1, 1), (2, 0), (3, 0)}
noisy = {(1, 2), (2, 3), (3, 2), (3, 3)}

fig = plt.figure(figsize=(17.83, 10.65), dpi=100)

lefts = [0.0338, 0.2775, 0.521, 0.7645]
width = 0.2085
bottoms = [0.744, 0.503, 0.263, 0.024]
height = 0.212

for r in range(4):
    for c in range(4):
        ax = fig.add_axes([lefts[c], bottoms[r], width, height])
        x, y = series[r][c]
        ds = "steps-post" if (r, c) in stepped else "default"
        lw = 1.3 if (r, c) in noisy else 1.0
        ax.plot(x, y, color="blue", lw=lw, drawstyle=ds, zorder=3)
        a, b = spans[r][c]
        alpha = 0.55 if (r, c) == (0, 0) else 0.3
        ax.axvspan(a, b, color="red", alpha=alpha, lw=0, zorder=2)
        ax.set_axisbelow(True)
        ax.grid(True, color="#b8b8b8", ls=(0, (3, 2)), lw=0.5)
        ax.xaxis.set_major_locator(MaxNLocator(nbins=9, steps=[1, 2, 2.5, 5, 10]))
        ax.yaxis.set_major_locator(MaxNLocator(nbins=9, steps=[1, 2, 2.5, 5, 10]))
        ax.tick_params(labelsize=5.5, length=2.5, width=0.6, colors="#333333", pad=2)
        for s in ax.spines.values():
            s.set_color("#666666")
            s.set_linewidth(0.9)

for c, t in enumerate(col_titles):
    fig.text(lefts[c] + width / 2, 0.977, t, ha="center", va="center", fontsize=17,
             fontweight="bold", family="Liberation Serif")

fig.savefig("out.png", dpi=100)
